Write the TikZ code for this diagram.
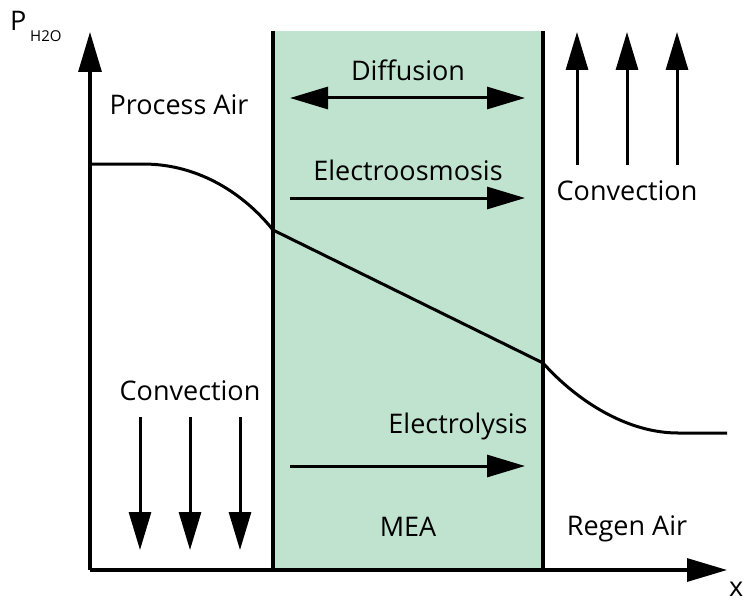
\documentclass[tikz,border=0pt]{standalone}
\usepackage{fontspec}
\setmainfont{Open Sans}
\usepackage{tikz}
\usetikzlibrary{arrows.meta}
\definecolor{mea}{RGB}{191, 227, 207}

\tikzset{
    flow/.style={line width=3pt, -{Triangle[length=38pt,width=22pt]}},
    lbl/.style={anchor=base, inner sep=0pt, font=\fontsize{27}{32}\selectfont}
}

\begin{document}
\begin{tikzpicture}[x=1pt, y=-1pt]
        \useasboundingbox (0,0) rectangle (751,604);

        % Membrane electrode assembly
        \fill[mea] (273,31) rectangle (543,570);
        \draw[line width=3.2pt] (273,31) -- (273,570);
        \draw[line width=3.2pt] (543,31) -- (543,570);

        % Axes
        \coordinate (o) at (90,570);
        \coordinate (ytip) at (90,32);
        \coordinate (xtip) at (727,570);
        \draw[line width=3.2pt, -{Triangle[length=40pt,width=23pt]}] (o) -- (ytip);
        \draw[line width=3.2pt, -{Triangle[length=40pt,width=23pt]}] (o) -- (xtip);
        \node[anchor=base west, inner sep=0pt, font=\fontsize{27}{32}\selectfont] (xlbl) at (729,596) {x};
        \node[anchor=base west, inner sep=0pt, font=\fontsize{27}{32}\selectfont] (plbl) at (10,31) {P};
        \node[anchor=base west, inner sep=0pt, font=\fontsize{15}{18}\selectfont] (sub) at (30,42) {H2O};

        % Water vapour pressure profile
        \draw[line width=3pt] (90,164) -- (143,164)
            .. controls (200,164) and (245,195) .. (273,230)
            -- (543,363)
            .. controls (578,402) and (628,433) .. (678,433) -- (727,433);

        % Labels
        \node[lbl] (proc) at (179,115) {Process Air};
        \node[lbl] (diff) at (408,81) {Diffusion};
        \node[lbl] (eosm) at (408,180) {Electroosmosis};
        \node[lbl] (convr) at (627,200) {Convection};
        \node[lbl] (convl) at (190,400) {Convection};
        \node[lbl] (elys) at (458,433) {Electrolysis};
        \node[lbl] (mea) at (408,536) {MEA};
        \node[lbl] (regen) at (627,535) {Regen Air};

        % Transport through the membrane
        \draw[flow, {Triangle[length=38pt,width=22pt]}-{Triangle[length=38pt,width=22pt]}] (290,98) -- (525,98);
        \draw[flow] (290,198) -- (525,198);
        \draw[flow] (290,466) -- (525,466);

        % Convection on both sides
        \foreach \x in {140,190,240}
            \draw[flow] (\x,417) -- (\x,550);
        \foreach \x in {577,627,677}
            \draw[flow] (\x,165) -- (\x,32);
    \end{tikzpicture}
\end{document}
